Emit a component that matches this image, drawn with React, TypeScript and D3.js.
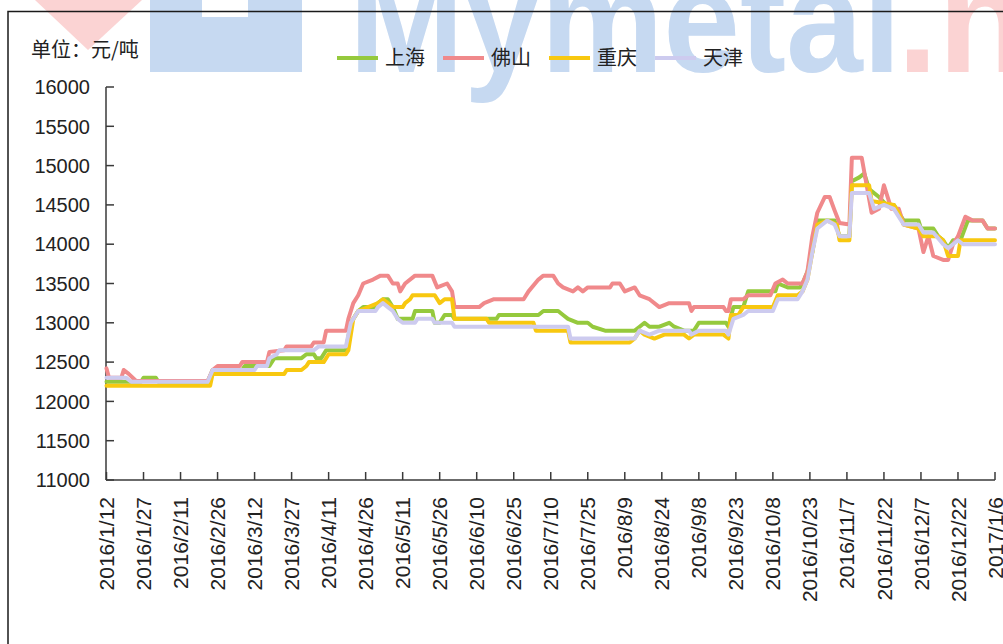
import React from "react";
import * as d3 from "d3";

type Pt = [string, number];

const seriesNames = ["上海", "佛山", "重庆", "天津"];
const seriesColors = ["#95c93d", "#f0898b", "#f8c810", "#cdcbef"];

const shanghai: Pt[] = [
  ["2016-01-12", 12250], ["2016-01-26", 12250], ["2016-01-27", 12300], ["2016-02-01", 12300],
  ["2016-02-02", 12250], ["2016-02-22", 12250], ["2016-02-24", 12400], ["2016-03-07", 12400],
  ["2016-03-08", 12450], ["2016-03-18", 12450], ["2016-03-20", 12550], ["2016-03-31", 12550],
  ["2016-04-02", 12600], ["2016-04-05", 12600], ["2016-04-06", 12550], ["2016-04-08", 12550],
  ["2016-04-10", 12650], ["2016-04-18", 12650], ["2016-04-20", 13000], ["2016-04-21", 13050],
  ["2016-04-23", 13150], ["2016-04-25", 13200], ["2016-04-30", 13200], ["2016-05-01", 13250],
  ["2016-05-03", 13300], ["2016-05-05", 13300], ["2016-05-07", 13200], ["2016-05-09", 13050],
  ["2016-05-15", 13050], ["2016-05-16", 13150], ["2016-05-23", 13150], ["2016-05-24", 13000],
  ["2016-05-26", 13000], ["2016-05-28", 13100], ["2016-05-31", 13100], ["2016-06-01", 13050],
  ["2016-06-18", 13050], ["2016-06-19", 13100], ["2016-07-05", 13100], ["2016-07-07", 13150],
  ["2016-07-13", 13150], ["2016-07-15", 13100], ["2016-07-17", 13050], ["2016-07-21", 13000],
  ["2016-07-25", 13000], ["2016-07-27", 12950], ["2016-08-01", 12900], ["2016-08-13", 12900],
  ["2016-08-15", 12950], ["2016-08-17", 13000], ["2016-08-19", 12950], ["2016-08-23", 12950],
  ["2016-08-27", 13000], ["2016-08-29", 12950], ["2016-09-02", 12900], ["2016-09-06", 12900],
  ["2016-09-08", 13000], ["2016-09-19", 13000], ["2016-09-20", 12950], ["2016-09-22", 13200],
  ["2016-09-26", 13200], ["2016-09-28", 13400], ["2016-10-09", 13400], ["2016-10-10", 13500],
  ["2016-10-14", 13450], ["2016-10-19", 13450], ["2016-10-20", 13500], ["2016-10-22", 13650],
  ["2016-10-24", 13900], ["2016-10-26", 14300], ["2016-11-02", 14300], ["2016-11-04", 14100],
  ["2016-11-08", 14100], ["2016-11-09", 14800], ["2016-11-12", 14850], ["2016-11-14", 14900],
  ["2016-11-16", 14700], ["2016-11-20", 14600], ["2016-11-23", 14500], ["2016-11-26", 14500],
  ["2016-11-28", 14400], ["2016-11-30", 14300], ["2016-12-06", 14300], ["2016-12-07", 14200],
  ["2016-12-12", 14200], ["2016-12-14", 14100], ["2016-12-16", 14050], ["2016-12-18", 13950],
  ["2016-12-20", 14050], ["2016-12-23", 14050], ["2016-12-26", 14300], ["2017-01-01", 14300],
  ["2017-01-03", 14200], ["2017-01-06", 14200],
];

const foshan: Pt[] = [
  ["2016-01-12", 12420], ["2016-01-13", 12300], ["2016-01-18", 12300], ["2016-01-19", 12400],
  ["2016-01-21", 12350], ["2016-01-24", 12260], ["2016-02-22", 12260], ["2016-02-24", 12400],
  ["2016-02-26", 12450], ["2016-03-06", 12450], ["2016-03-07", 12500], ["2016-03-17", 12500],
  ["2016-03-18", 12630], ["2016-03-24", 12650], ["2016-03-25", 12700], ["2016-04-04", 12700],
  ["2016-04-05", 12750], ["2016-04-09", 12750], ["2016-04-10", 12900], ["2016-04-18", 12900],
  ["2016-04-19", 13050], ["2016-04-21", 13250], ["2016-04-23", 13350], ["2016-04-25", 13500],
  ["2016-04-29", 13550], ["2016-05-02", 13600], ["2016-05-05", 13600], ["2016-05-07", 13500],
  ["2016-05-09", 13500], ["2016-05-10", 13400], ["2016-05-12", 13500], ["2016-05-16", 13600],
  ["2016-05-23", 13600], ["2016-05-25", 13450], ["2016-05-29", 13500], ["2016-05-31", 13400],
  ["2016-06-01", 13200], ["2016-06-11", 13200], ["2016-06-13", 13250], ["2016-06-17", 13300],
  ["2016-06-29", 13300], ["2016-07-01", 13400], ["2016-07-05", 13550], ["2016-07-07", 13600],
  ["2016-07-11", 13600], ["2016-07-13", 13500], ["2016-07-15", 13450], ["2016-07-19", 13400],
  ["2016-07-21", 13450], ["2016-07-23", 13400], ["2016-07-25", 13450], ["2016-08-03", 13450],
  ["2016-08-04", 13500], ["2016-08-07", 13500], ["2016-08-09", 13400], ["2016-08-13", 13450],
  ["2016-08-15", 13350], ["2016-08-19", 13300], ["2016-08-23", 13200], ["2016-08-27", 13250],
  ["2016-09-04", 13250], ["2016-09-05", 13150], ["2016-09-06", 13200], ["2016-09-18", 13200],
  ["2016-09-19", 13150], ["2016-09-20", 13150], ["2016-09-21", 13300], ["2016-09-26", 13300],
  ["2016-09-28", 13350], ["2016-10-07", 13350], ["2016-10-09", 13500], ["2016-10-12", 13550],
  ["2016-10-14", 13500], ["2016-10-20", 13500], ["2016-10-22", 13650], ["2016-10-24", 14100],
  ["2016-10-26", 14400], ["2016-10-29", 14600], ["2016-10-31", 14600], ["2016-11-02", 14430],
  ["2016-11-04", 14270], ["2016-11-08", 14250], ["2016-11-09", 15100], ["2016-11-13", 15100],
  ["2016-11-15", 14750], ["2016-11-17", 14400], ["2016-11-20", 14450], ["2016-11-22", 14750],
  ["2016-11-25", 14450], ["2016-11-28", 14450], ["2016-11-30", 14250], ["2016-12-06", 14200],
  ["2016-12-08", 13900], ["2016-12-10", 14100], ["2016-12-12", 13850], ["2016-12-16", 13800],
  ["2016-12-18", 13800], ["2016-12-20", 14000], ["2016-12-22", 14100], ["2016-12-25", 14350],
  ["2016-12-28", 14300], ["2017-01-01", 14300], ["2017-01-03", 14200], ["2017-01-06", 14200],
];

const chongqing: Pt[] = [
  ["2016-01-12", 12200], ["2016-02-23", 12200], ["2016-02-24", 12350], ["2016-03-24", 12350],
  ["2016-03-25", 12400], ["2016-03-31", 12400], ["2016-04-02", 12450], ["2016-04-03", 12500],
  ["2016-04-09", 12500], ["2016-04-11", 12600], ["2016-04-18", 12600], ["2016-04-19", 12650],
  ["2016-04-21", 13050], ["2016-04-23", 13150], ["2016-04-27", 13200], ["2016-05-01", 13250],
  ["2016-05-03", 13300], ["2016-05-05", 13250], ["2016-05-07", 13200], ["2016-05-11", 13200],
  ["2016-05-12", 13250], ["2016-05-14", 13300], ["2016-05-15", 13350], ["2016-05-24", 13350],
  ["2016-05-26", 13250], ["2016-05-28", 13300], ["2016-05-31", 13300], ["2016-06-01", 13050],
  ["2016-06-14", 13050], ["2016-06-15", 13000], ["2016-07-03", 13000], ["2016-07-04", 12900],
  ["2016-07-17", 12900], ["2016-07-18", 12750], ["2016-08-11", 12750], ["2016-08-13", 12800],
  ["2016-08-15", 12900], ["2016-08-17", 12850], ["2016-08-21", 12800], ["2016-08-25", 12850],
  ["2016-09-02", 12850], ["2016-09-04", 12800], ["2016-09-06", 12850], ["2016-09-18", 12850],
  ["2016-09-20", 12800], ["2016-09-21", 13100], ["2016-09-24", 13100], ["2016-09-26", 13200],
  ["2016-10-08", 13200], ["2016-10-10", 13350], ["2016-10-18", 13350], ["2016-10-20", 13400],
  ["2016-10-22", 13550], ["2016-10-24", 13900], ["2016-10-26", 14250], ["2016-10-30", 14300],
  ["2016-11-03", 14250], ["2016-11-04", 14050], ["2016-11-08", 14050], ["2016-11-09", 14750],
  ["2016-11-16", 14750], ["2016-11-17", 14550], ["2016-11-26", 14500], ["2016-11-28", 14400],
  ["2016-11-30", 14250], ["2016-12-06", 14200], ["2016-12-08", 14100], ["2016-12-14", 14100],
  ["2016-12-16", 14050], ["2016-12-18", 13850], ["2016-12-22", 13850], ["2016-12-23", 14050],
  ["2017-01-06", 14050],
];

const tianjin: Pt[] = [
  ["2016-01-12", 12300], ["2016-01-20", 12300], ["2016-01-22", 12250], ["2016-02-22", 12250],
  ["2016-02-24", 12400], ["2016-03-12", 12400], ["2016-03-13", 12450], ["2016-03-17", 12450],
  ["2016-03-18", 12550], ["2016-03-21", 12600], ["2016-03-22", 12650], ["2016-04-05", 12650],
  ["2016-04-07", 12700], ["2016-04-18", 12700], ["2016-04-20", 13000], ["2016-04-21", 13050],
  ["2016-04-23", 13150], ["2016-04-30", 13150], ["2016-05-01", 13200], ["2016-05-03", 13250],
  ["2016-05-05", 13200], ["2016-05-07", 13150], ["2016-05-09", 13050], ["2016-05-11", 13000],
  ["2016-05-16", 13000], ["2016-05-17", 13050], ["2016-05-23", 13050], ["2016-05-24", 13000],
  ["2016-05-31", 13000], ["2016-06-01", 12950], ["2016-07-17", 12950], ["2016-07-18", 12800],
  ["2016-08-13", 12800], ["2016-08-15", 12900], ["2016-08-19", 12850], ["2016-08-23", 12900],
  ["2016-09-04", 12900], ["2016-09-05", 12850], ["2016-09-08", 12900], ["2016-09-19", 12900],
  ["2016-09-20", 12850], ["2016-09-22", 13050], ["2016-09-26", 13100], ["2016-09-28", 13150],
  ["2016-10-08", 13150], ["2016-10-10", 13300], ["2016-10-18", 13300], ["2016-10-20", 13400],
  ["2016-10-22", 13550], ["2016-10-24", 13900], ["2016-10-26", 14200], ["2016-10-30", 14300],
  ["2016-11-02", 14250], ["2016-11-04", 14100], ["2016-11-08", 14100], ["2016-11-09", 14650],
  ["2016-11-16", 14650], ["2016-11-18", 14450], ["2016-11-22", 14500], ["2016-11-26", 14450],
  ["2016-11-28", 14350], ["2016-11-30", 14250], ["2016-12-06", 14250], ["2016-12-08", 14150],
  ["2016-12-12", 14150], ["2016-12-16", 14000], ["2016-12-18", 13950], ["2016-12-20", 14000],
  ["2016-12-22", 14050], ["2016-12-24", 14000], ["2017-01-06", 14000],
];

const yTicks = [11000, 11500, 12000, 12500, 13000, 13500, 14000, 14500, 15000, 15500, 16000];
const xTickLabels = [
  "2016/1/12", "2016/1/27", "2016/2/11", "2016/2/26", "2016/3/12", "2016/3/27", "2016/4/11",
  "2016/4/26", "2016/5/11", "2016/5/26", "2016/6/10", "2016/6/25", "2016/7/10", "2016/7/25",
  "2016/8/9", "2016/8/24", "2016/9/8", "2016/9/23", "2016/10/8", "2016/10/23", "2016/11/7",
  "2016/11/22", "2016/12/7", "2016/12/22", "2017/1/6",
];
const unitLabel = "单位：元/吨";

const parseISO = d3.timeParse("%Y-%m-%d");
const parseLabel = d3.timeParse("%Y/%m/%d");

export default function App() {
  const seriesData = [shanghai, foshan, chongqing, tianjin];
  const x = d3
    .scaleTime()
    .domain([parseLabel(xTickLabels[0])!, parseLabel(xTickLabels[xTickLabels.length - 1])!])
    .range([106.5, 995]);
  const y = d3.scaleLinear().domain([11000, 16000]).range([480, 87]);
  const line = d3
    .line<Pt>()
    .x((d) => x(parseISO(d[0])!))
    .y((d) => y(d[1]));

  const latin = "'Liberation Sans', Arial, sans-serif";
  const cjk = "'Noto Sans CJK SC', 'Noto Sans', sans-serif";
  const axisColor = "#3a3a3a";

  return (
    <svg
      width={1003}
      height={644}
      style={{ position: "absolute", left: 0, top: 0, background: "#fff" }}
    >
      {/* watermark */}
      <g>
        <polygon points="35,0 142,0 88,50" fill="#fbd3d3" />
        <rect x={150} y={0} width={152} height={72} fill="#c6d9f1" />
        <rect x={202} y={0} width={46} height={17} fill="#fff" />
        <text
          x={349}
          y={72}
          fontFamily={latin}
          fontWeight="bold"
          fontSize={150}
          fill="#c6d9f1"
          textLength={552}
          lengthAdjust="spacingAndGlyphs"
        >
          Mymetal
        </text>
        <text
          x={897}
          y={72}
          fontFamily={latin}
          fontWeight="bold"
          fontSize={150}
          fill="#fbd3d3"
          textLength={262}
          lengthAdjust="spacingAndGlyphs"
        >
          .net
        </text>
      </g>

      {/* outer frame */}
      <rect x={8} y={11.5} width={1100} height={1000} fill="none" stroke="#1a1a1a" strokeWidth={1.5} />

      {/* unit label */}
      <text x={31} y={50} dy="0.35em" fontFamily={cjk} fontSize={20} fill="#222">
        {unitLabel}
      </text>

      {/* legend */}
      <g>
        {seriesNames.map((name, i) => {
          const lx = 337 + i * 106;
          return (
            <g key={name}>
              <line x1={lx} x2={lx + 41} y1={58} y2={58} stroke={seriesColors[i]} strokeWidth={4} />
              <text x={lx + 48} y={58} dy="0.36em" fontFamily={cjk} fontSize={20} fill="#222">
                {name}
              </text>
            </g>
          );
        })}
      </g>

      {/* y axis */}
      <line x1={106} x2={106} y1={y(16000)} y2={y(11000)} stroke={axisColor} strokeWidth={1.5} />
      {yTicks.map((t) => (
        <g key={t}>
          <line x1={106} x2={114} y1={y(t)} y2={y(t)} stroke={axisColor} strokeWidth={1.5} />
          <text
            x={90}
            y={y(t)}
            dy="0.36em"
            textAnchor="end"
            fontFamily={latin}
            fontSize={20}
            fill="#222"
          >
            {t}
          </text>
        </g>
      ))}

      {/* x axis */}
      <line x1={106} x2={995} y1={480} y2={480} stroke={axisColor} strokeWidth={1.5} />
      {xTickLabels.map((lab) => {
        const tx = x(parseLabel(lab)!);
        return (
          <g key={lab}>
            <line x1={tx} x2={tx} y1={480} y2={472} stroke={axisColor} strokeWidth={1.5} />
            <text
              transform={`translate(${tx},497) rotate(-90)`}
              dy="0.36em"
              textAnchor="end"
              fontFamily={latin}
              fontSize={21}
              fill="#222"
            >
              {lab}
            </text>
          </g>
        );
      })}

      {/* series lines */}
      {seriesData.map((data, i) => (
        <path
          key={seriesNames[i]}
          d={line(data) || ""}
          fill="none"
          stroke={seriesColors[i]}
          strokeWidth={4}
          strokeLinejoin="round"
          strokeLinecap="round"
        />
      ))}
    </svg>
  );
}
